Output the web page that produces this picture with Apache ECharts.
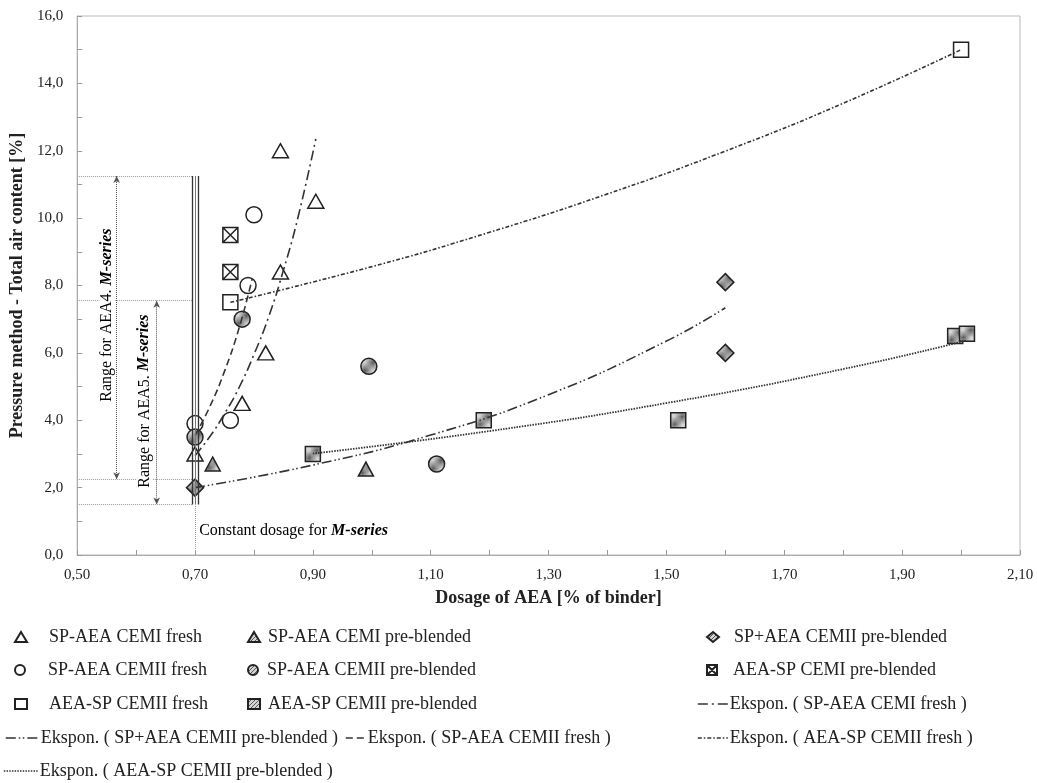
<!DOCTYPE html>
<html>
<head>
<meta charset="utf-8">
<script src="https://cdn.jsdelivr.net/npm/echarts@6/dist/echarts.min.js"></script>
<style>
html,body{margin:0;padding:0;background:#fff;}
#c{width:1037px;height:783px;}
</style>
</head>
<body>
<div id="c"></div>
<script>
// ---------- data ----------
const xTicks = [0.5, 2.1];
const yTicks = [0, 16];

const spAeaCemiFresh      = [[0.70,3.0],[0.78,4.5],[0.82,6.0],[0.845,8.4],[0.845,12.0],[0.905,10.5]];
const spAeaCemiPre        = [[0.73,2.7],[0.99,2.55]];
const spPlusAeaCemiiPre   = [[0.70,2.0],[1.60,8.1],[1.60,6.0]];
const spAeaCemiiFresh     = [[0.70,3.9],[0.76,4.0],[0.79,8.0],[0.80,10.1]];
const spAeaCemiiPre       = [[0.70,3.5],[0.78,7.0],[0.995,5.6],[1.11,2.7]];
const aeaSpCemiPre        = [[0.76,8.4],[0.76,9.5]];
const aeaSpCemiiFresh     = [[0.76,7.5],[2.0,15.0]];
const aeaSpCemiiPre       = [[0.90,3.0],[1.19,4.0],[1.52,4.0],[1.99,6.5],[2.01,6.57]];

// exponential trend lines
const trendSpAeaCemiFresh    = [[0.70,2.95],[0.725,3.51],[0.75,4.19],[0.775,4.98],[0.80,5.95],[0.825,7.07],[0.85,8.45],[0.875,10.04],[0.905,12.35]];
const trendSpPlusAeaCemiiPre = [[0.70,2.0],[0.90,2.67],[1.10,3.56],[1.30,4.76],[1.50,6.35],[1.60,7.34]];
const trendSpAeaCemiiFresh   = [[0.70,3.55],[0.725,4.4],[0.75,5.45],[0.775,6.75],[0.797,8.2]];
const trendAeaSpCemiiFresh   = [[0.76,7.5],[1.0,8.56],[1.2,9.58],[1.4,10.72],[1.6,11.99],[1.8,13.41],[2.0,15.0]];
const trendAeaSpCemiiPre     = [[0.90,3.01],[1.2,3.68],[1.5,4.51],[1.8,5.52],[2.01,6.37]];

// annotation levels
const rangeAEA4 = [11.25, 2.25];
const rangeAEA5 = [7.55, 1.5];
const constantDosage = 0.70;

const names = [
  'SP-AEA CEMI fresh','SP-AEA CEMI pre-blended','SP+AEA CEMII pre-blended',
  'SP-AEA CEMII fresh','SP-AEA CEMII pre-blended','AEA-SP CEMI pre-blended',
  'AEA-SP CEMII fresh','AEA-SP CEMII pre-blended','Ekspon. ( SP-AEA CEMI fresh )',
  'Ekspon. ( SP+AEA CEMII pre-blended )','Ekspon. ( SP-AEA CEMII fresh )','Ekspon. ( AEA-SP CEMII fresh )',
  'Ekspon. ( AEA-SP CEMII pre-blended )'
];

// ---------- styles ----------
const FONT = "'Liberation Serif', 'Times New Roman', serif";
const INK = '#222';
function hatch(){
  const s = 4;
  const c = document.createElement('canvas');
  c.width = s; c.height = s;
  const g = c.getContext('2d');
  g.fillStyle = '#d4d4d4'; g.fillRect(0,0,s,s);
  g.strokeStyle = '#5a5a5a'; g.lineWidth = 1;
  g.beginPath();
  g.moveTo(0,s); g.lineTo(s,0);
  g.moveTo(-1,1); g.lineTo(1,-1);
  g.moveTo(s-1,s+1); g.lineTo(s+1,s-1);
  g.stroke();
  return {image: c, repeat: 'repeat'};
}
const HATCH = hatch();
const boxX = 'path://M0,0L20,0L20,20L0,20ZM0,0L20,20M20,0L0,20';

const DASH = {
  cemiFresh:[10,4,2,4],
  spPlus:[10,3,1.5,2.5,1.5,3],
  cemiiFresh:[7,4],
  aeaFresh:[4,2,1.5,2],
  aeaPre:[1.5,1.2]
};

function scatter(name, data, symbol, size, filled){
  return {
    name, type:'scatter', data, symbol, symbolSize:size, z:3,
    itemStyle:{color: filled ? HATCH : 'rgba(255,255,255,0)', borderColor:INK, borderWidth:1.5, opacity:1},
    emphasis:{disabled:true}
  };
}
function trend(name, data, dash, width){
  return {
    name, type:'line', data, smooth:true, symbol:'none', showSymbol:false, z:4,
    lineStyle:{color:'#333', width: width||1.6, type:dash},
    itemStyle:{color:'#333'},
    emphasis:{disabled:true}
  };
}

const series = [
  scatter(names[0], spAeaCemiFresh, 'triangle', [16,14], false),
  scatter(names[1], spAeaCemiPre, 'triangle', [15,14], true),
  scatter(names[2], spPlusAeaCemiiPre, 'diamond', [17,17], true),
  scatter(names[3], spAeaCemiiFresh, 'circle', 16, false),
  scatter(names[4], spAeaCemiiPre, 'circle', 16, true),
  scatter(names[5], aeaSpCemiPre, boxX, 15, false),
  scatter(names[6], aeaSpCemiiFresh, 'rect', 15, false),
  scatter(names[7], aeaSpCemiiPre, 'rect', 15, true),
  trend(names[8], trendSpAeaCemiFresh, DASH.cemiFresh),
  trend(names[9], trendSpPlusAeaCemiiPre, DASH.spPlus),
  trend(names[10], trendSpAeaCemiiFresh, DASH.cemiiFresh),
  trend(names[11], trendAeaSpCemiiFresh, DASH.aeaFresh),
  trend(names[12], trendAeaSpCemiiPre, DASH.aeaPre, 1.8)
];

// annotation helper series (not in any legend)
const xMin = xTicks[0];
const leftStop = constantDosage - 0.005;
const dotted = {type:'dotted', color:'#999', width:1};
series.push({
  name:'_lines', type:'line', data:[], silent:true, z:2,
  markLine:{
    silent:true, animation:false, symbol:['none','none'], label:{show:false},
    emphasis:{disabled:true},
    data:[
      [{coord:[xMin,rangeAEA4[0]], lineStyle:dotted},{coord:[leftStop,rangeAEA4[0]]}],
      [{coord:[xMin,rangeAEA4[1]], lineStyle:dotted},{coord:[leftStop,rangeAEA4[1]]}],
      [{coord:[xMin,rangeAEA5[0]], lineStyle:dotted},{coord:[leftStop,rangeAEA5[0]]}],
      [{coord:[xMin,rangeAEA5[1]], lineStyle:dotted},{coord:[leftStop,rangeAEA5[1]]}],
      [{coord:[constantDosage,0], lineStyle:dotted},{coord:[constantDosage,rangeAEA5[1]]}],
      [{coord:[constantDosage-0.0052,rangeAEA5[1]], lineStyle:{type:'solid',color:'#333',width:1.3}},{coord:[constantDosage-0.0052,rangeAEA4[0]]}],
      [{coord:[constantDosage,rangeAEA5[1]], lineStyle:{type:'solid',color:'#777',width:1}},{coord:[constantDosage,rangeAEA4[0]]}],
      [{coord:[constantDosage+0.0052,rangeAEA5[1]], lineStyle:{type:'solid',color:'#333',width:1.3}},{coord:[constantDosage+0.0052,rangeAEA4[0]]}]
    ]
  }
});
series.push({
  name:'_arrows', type:'line', data:[], silent:true, z:2,
  markLine:{
    silent:true, animation:false, symbol:['arrow','arrow'], symbolSize:[5,7], label:{show:false},
    emphasis:{disabled:true},
    lineStyle:{type:'dotted', color:'#555', width:1},
    data:[
      [{coord:[0.567,rangeAEA4[0]]},{coord:[0.567,rangeAEA4[1]]}],
      [{coord:[0.635,rangeAEA5[0]]},{coord:[0.635,rangeAEA5[1]]}]
    ]
  }
});

// ---------- legends: 3 columns ----------
const rowY = [638, 671, 705, 739, 772];
const cells = [
  // [name index, row, left, itemWidth, text padding-left, dash]
  [0,0,14,12,17],[1,0,247,12,3],[2,0,706,12,10],
  [3,1,14,12,17],[4,1,247,12,3],[5,1,706,12,10],
  [6,2,14,12,17],[7,2,247,12,3],[8,2,697,30,-3,DASH.cemiFresh],
  [9,3,5,33,-3,DASH.spPlus],[10,3,345,20,-3,DASH.cemiiFresh],[11,3,697,30,-3,DASH.aeaFresh],
  [12,4,3,34,-3,DASH.aeaPre]
];
const legends = cells.map(([ni,r,left,w,pad,dash]) => {
  const l = {
    data:[names[ni]], left, top: rowY[r]-10, padding:0,
    itemWidth:w, itemHeight:10, itemGap:0, selectedMode:false,
    textStyle:{fontFamily:FONT, fontSize:18, color:INK, padding:[0,0,0,pad]}
  };
  if (dash) {
    l.lineStyle = {type:dash, color:'#333', width:1.6};
    l.itemStyle = {opacity:0, color:'transparent', borderWidth:0};
  }
  return l;
});

const chart = echarts.init(document.getElementById('c'), null, {renderer:'canvas'});
const fmtX = v => { const t = Math.round(v*10); return (t % 2 === 1) ? v.toFixed(2).replace('.', ',') : ''; };
const fmtY = v => (Math.round(v) % 2 === 0) ? v.toFixed(1).replace('.', ',') : '';

chart.setOption({
  animation:false,
  backgroundColor:'#fff',
  grid:{left:77, right:17, top:16, bottom:228, show:true, borderColor:'#bbb', borderWidth:1, backgroundColor:'transparent'},
  legend: legends,
  xAxis:{
    type:'value', min:xTicks[0], max:xTicks[1], interval:0.1,
    name:'Dosage of AEA [% of binder]', nameLocation:'middle', nameGap:34,
    nameTextStyle:{fontFamily:FONT, fontSize:18, fontWeight:'bold', color:INK},
    axisLine:{show:true, lineStyle:{color:'#aaa', width:1}},
    axisTick:{show:true, inside:true, length:5, lineStyle:{color:'#999'}},
    axisLabel:{formatter:fmtX, fontFamily:FONT, fontSize:15, color:INK, margin:13, showMinLabel:true, showMaxLabel:true},
    splitLine:{show:false}
  },
  yAxis:{
    type:'value', min:yTicks[0], max:yTicks[1], interval:1,
    name:'Pressure method - Total air content [%]', nameLocation:'middle', nameGap:45,
    nameTextStyle:{fontFamily:FONT, fontSize:18, fontWeight:'bold', color:INK},
    axisLine:{show:true, lineStyle:{color:'#aaa', width:1}},
    axisTick:{show:true, inside:true, length:5, lineStyle:{color:'#999'}},
    axisLabel:{formatter:fmtY, fontFamily:FONT, fontSize:15, color:INK, margin:14},
    splitLine:{show:false}
  },
  series
});

// ---------- text annotations positioned through the axes ----------
function px(x,y){ return chart.convertToPixel({gridIndex:0}, [x,y]); }
const rich = {
  a:{fontFamily:FONT, fontSize:16, color:INK},
  b:{fontFamily:FONT, fontSize:16, color:INK, fontStyle:'italic', fontWeight:'bold'}
};
const p4 = px(0.551, 7.12), p5 = px(0.614, 4.57), pc = px(0.707, 0.71);
chart.setOption({
  graphic:[
    {type:'text', x:p4[0], y:p4[1], rotation:Math.PI/2, z:10,
     style:{text:'{a|Range for AEA4. }{b|M-series}', rich, align:'center', verticalAlign:'middle', textAlign:'center', textVerticalAlign:'middle', backgroundColor:'#fff'}},
    {type:'text', x:p5[0], y:p5[1], rotation:Math.PI/2, z:10,
     style:{text:'{a|Range for AEA5. }{b|M-series}', rich, align:'center', verticalAlign:'middle', textAlign:'center', textVerticalAlign:'middle', backgroundColor:'#fff'}},
    {type:'text', x:pc[0], y:pc[1], z:10,
     style:{text:'{a|Constant dosage for }{b|M-series}', rich, align:'left', verticalAlign:'middle', textAlign:'left', textVerticalAlign:'middle'}}
  ]
});
</script>
</body>
</html>
